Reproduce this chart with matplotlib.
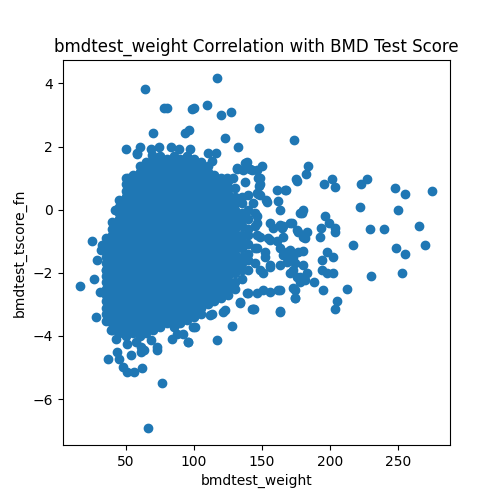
import matplotlib
matplotlib.use("Agg")
import matplotlib.pyplot as plt

# Dense core of the cloud, read column by column (x value, then y readings)
core_cols = [35, 40, 45, 50, 55, 60, 65, 70, 75, 80, 85, 90, 95, 100,
             105, 110, 115, 120, 125, 130, 135, 140, 145]
core_ys = [
    [-3.3, -3.1, -2.9, -2.7, -2.5, -2.3, -2.1, -1.9, -1.7, -1.5, -1.3, -1.1, -0.9],
    [-3.8, -3.6, -3.4, -3.2, -3.0, -2.8, -2.6, -2.4, -2.2, -2.0, -1.8, -1.6, -1.4, -1.2, -1.0, -0.8, -0.6, -0.4],
    [-3.9, -3.7, -3.5, -3.3, -3.1, -2.9, -2.7, -2.5, -2.3, -2.1, -1.9, -1.7, -1.5, -1.3, -1.1, -0.9, -0.7, -0.5, -0.3, -0.1, 0.1, 0.3],
    [-4.0, -3.8, -3.6, -3.4, -3.2, -3.0, -2.8, -2.6, -2.4, -2.2, -2.0, -1.8, -1.6, -1.4, -1.2, -1.0, -0.8, -0.6, -0.4, -0.2, 0.0, 0.2, 0.4, 0.6, 0.8, 1.0],
    [-3.9, -3.7, -3.5, -3.3, -3.1, -2.9, -2.7, -2.5, -2.3, -2.1, -1.9, -1.7, -1.5, -1.3, -1.1, -0.9, -0.7, -0.5, -0.3, -0.1, 0.1, 0.3, 0.5, 0.7, 0.9, 1.1],
    [-4.0, -3.8, -3.6, -3.4, -3.2, -3.0, -2.8, -2.6, -2.4, -2.2, -2.0, -1.8, -1.6, -1.4, -1.2, -1.0, -0.8, -0.6, -0.4, -0.2, 0.0, 0.2, 0.4, 0.6, 0.8, 1.0, 1.2, 1.4],
    [-3.9, -3.7, -3.5, -3.3, -3.1, -2.9, -2.7, -2.5, -2.3, -2.1, -1.9, -1.7, -1.5, -1.3, -1.1, -0.9, -0.7, -0.5, -0.3, -0.1, 0.1, 0.3, 0.5, 0.7, 0.9, 1.1, 1.3, 1.5],
    [-3.8, -3.6, -3.4, -3.2, -3.0, -2.8, -2.6, -2.4, -2.2, -2.0, -1.8, -1.6, -1.4, -1.2, -1.0, -0.8, -0.6, -0.4, -0.2, 0.0, 0.2, 0.4, 0.6, 0.8, 1.0, 1.2, 1.4, 1.6],
    [-3.7, -3.5, -3.3, -3.1, -2.9, -2.7, -2.5, -2.3, -2.1, -1.9, -1.7, -1.5, -1.3, -1.1, -0.9, -0.7, -0.5, -0.3, -0.1, 0.1, 0.3, 0.5, 0.7, 0.9, 1.1, 1.3, 1.5, 1.7],
    [-3.6, -3.4, -3.2, -3.0, -2.8, -2.6, -2.4, -2.2, -2.0, -1.8, -1.6, -1.4, -1.2, -1.0, -0.8, -0.6, -0.4, -0.2, 0.0, 0.2, 0.4, 0.6, 0.8, 1.0, 1.2, 1.4, 1.6],
    [-3.7, -3.5, -3.3, -3.1, -2.9, -2.7, -2.5, -2.3, -2.1, -1.9, -1.7, -1.5, -1.3, -1.1, -0.9, -0.7, -0.5, -0.3, -0.1, 0.1, 0.3, 0.5, 0.7, 0.9, 1.1, 1.3, 1.5, 1.7],
    [-3.6, -3.4, -3.2, -3.0, -2.8, -2.6, -2.4, -2.2, -2.0, -1.8, -1.6, -1.4, -1.2, -1.0, -0.8, -0.6, -0.4, -0.2, 0.0, 0.2, 0.4, 0.6, 0.8, 1.0, 1.2, 1.4, 1.6],
    [-3.5, -3.3, -3.1, -2.9, -2.7, -2.5, -2.3, -2.1, -1.9, -1.7, -1.5, -1.3, -1.1, -0.9, -0.7, -0.5, -0.3, -0.1, 0.1, 0.3, 0.5, 0.7, 0.9, 1.1, 1.3, 1.5, 1.7],
    [-3.4, -3.2, -3.0, -2.8, -2.6, -2.4, -2.2, -2.0, -1.8, -1.6, -1.4, -1.2, -1.0, -0.8, -0.6, -0.4, -0.2, 0.0, 0.2, 0.4, 0.6, 0.8, 1.0, 1.2, 1.4, 1.6],
    [-3.3, -3.1, -2.9, -2.7, -2.5, -2.3, -2.1, -1.9, -1.7, -1.5, -1.3, -1.1, -0.9, -0.7, -0.5, -0.3, -0.1, 0.1, 0.3, 0.5, 0.7, 0.9, 1.1, 1.3, 1.5],
    [-3.0, -2.8, -2.6, -2.4, -2.2, -2.0, -1.8, -1.6, -1.4, -1.2, -1.0, -0.8, -0.6, -0.4, -0.2, 0.0, 0.2, 0.4, 0.6, 0.8, 1.0, 1.2, 1.4],
    [-2.9, -2.7, -2.5, -2.3, -2.1, -1.9, -1.7, -1.5, -1.3, -1.1, -0.9, -0.7, -0.5, -0.3, -0.1, 0.1, 0.3, 0.5, 0.7, 0.9, 1.1],
    [-2.8, -2.6, -2.4, -2.2, -2.0, -1.8, -1.6, -1.4, -1.2, -1.0, -0.8, -0.6, -0.4, -0.2, 0.0, 0.2, 0.4, 0.6, 0.8, 1.0],
    [-2.7, -2.5, -2.3, -2.1, -1.9, -1.7, -1.5, -1.3, -1.1, -0.9, -0.7, -0.5, -0.3, -0.1, 0.1, 0.3, 0.5, 0.7, 0.9],
    [-2.5, -2.3, -2.0, -1.8, -1.6, -1.4, -1.2, -1.0, -0.8, -0.6, -0.4, -0.2, 0.0, 0.2, 0.4, 0.7],
    [-2.2, -1.9, -1.7, -1.5, -1.2, -1.0, -0.8, -0.5, -0.3, -0.1, 0.2, 0.4],
    [-1.9, -1.6, -1.4, -1.1, -0.8, -0.6, -0.3, 0.0],
    [-1.7, -1.2, -0.5, -0.1],
]

# Individually visible points around the core
scatter_x = [
    64.0, 78.0, 80.3, 98.8, 69.9, 93.1, 96.3, 50.0, 60.3, 58.3, 68.6, 74.3, 83.3, 89.0, 97.0, 51.7,
    116.7, 100.0, 109.3, 120.0, 127.2, 148.0, 173.8, 123.0, 132.6, 110.5, 116.2, 113.0, 138.7, 131.8,
    141.2, 150.2, 137.5, 148.5, 148.5, 160.8, 167.6, 175.0, 182.4, 184.0, 57.9, 68.9,
    195.6, 201.5, 203.9, 222.6, 227.4, 247.8, 255.1, 275.2, 222.0, 250.2, 229.4, 239.9, 265.0, 217.2,
    248.5, 255.0, 270.0, 230.0, 253.0, 212.2, 205.4, 203.7, 163.0, 174.5, 195.0, 188.5, 202.4, 197.6,
    193.9, 193.9, 198.0, 202.4, 192.6, 193.4, 196.3, 199.0, 203.7, 203.7, 178.0, 174.3, 163.2, 155.9,
    151.0, 144.1, 180.4, 178.0, 166.9, 162.0, 163.2, 153.0, 148.0, 147.3, 142.4,
    148.5, 175.5, 153.4, 179.2, 155.9, 163.2, 170.6, 175.5, 181.6, 146.1, 154.6, 160.8, 168.2,
    170.6, 174.3, 175.5, 181.6, 152.2, 155.9, 151.0, 162.0, 173.0, 174.3, 163.2, 138.7, 143.6, 133.8,
    121.5, 113.0, 127.7, 99.5, 92.1, 116.7,
    146.1, 146.1, 158.3, 164.5, 165.7, 171.8, 176.7, 180.4, 182.9, 165.7, 155.9, 148.5, 146.1, 152.2,
    163.2, 165.7, 170.6, 176.7, 180.4, 173.0, 168.2, 163.2, 180.4, 155.9, 148.5, 170.6, 173.0, 177.9, 182.9,
    131.4, 137.5, 139.9, 146.1, 147.3, 146.1, 124.0, 128.9, 136.3, 139.9, 143.6,
    25.2, 16.2, 26.5, 30.9, 28.4, 32.6, 31.4, 35.0, 41.7, 41.2, 48.5, 51.0, 28.2, 35.0, 37.0, 43.2,
    44.9, 48.0, 51.0, 55.9, 62.0, 53.5, 60.8, 63.2, 76.7, 66.4, 72.6, 84.0, 87.7, 95.6, 42.4, 51.0,
    57.1, 38.7, 68.6, 61.3, 72.6, 100.7, 111.8, 122.8, 133.8, 142.4, 139.9, 146.1, 95.8,
]
scatter_y = [
    3.81, 3.21, 3.21, 3.20, 2.42, 2.42, 2.53, 1.91, 2.00, 1.80, 1.91, 2.00, 2.00, 1.91, 1.91, 1.00,
    4.19, 3.21, 3.31, 2.99, 3.11, 2.60, 2.20, 2.28, 2.00, 1.80, 1.80, 1.54, 1.51, 1.30,
    1.30, 1.40, 0.87, 1.00, 0.80, 0.64, 0.64, 0.96, 1.12, 1.40, 1.78, 1.75,
    0.80, 0.98, 0.72, 0.80, 0.98, 0.69, 0.50, 0.60, 0.09, 0.00, -0.60, -0.60, -0.51, -1.11,
    -1.22, -1.40, -1.11, -2.10, -2.02, -2.52, -2.89, -3.13, -3.20, -2.81, -2.53, -2.29, -2.02, -2.02,
    -1.91, -1.59, -1.33, -1.51, -0.87, -0.58, -0.21, -0.42, -0.58, -0.72, -2.28, -2.53, -2.55, -2.60,
    -2.55, -3.13, 0.00, -0.10, 0.61, 0.29, 0.00, 0.32, 0.76, 0.51, 1.27,
    0.48, 0.90, 0.26, -0.10, -0.42, -0.48, -0.42, -0.64, -0.90, -0.80, -0.90, -1.00, -1.33,
    -1.59, -1.70, -2.12, -2.23, -1.49, -1.75, -2.02, -2.55, -2.49, -2.81, -3.23, -2.65, -3.13, -2.92,
    -3.24, -3.29, -3.69, -3.72, -3.93, -4.14,
    -0.21, -0.42, -0.58, -0.58, -0.50, -0.42, -0.69, -0.85, -0.69, -0.85, -0.96, -0.85, -1.22, -1.33,
    -1.22, -1.45, -1.27, -1.33, -1.30, -1.49, -1.65, -1.75, -1.75, -1.81, -1.91, -2.02, -1.91, -2.12, -2.02,
    1.33, 1.49, 1.33, 1.27, 1.01, 0.53, 1.00, 1.00, 1.27, 0.48, 0.21,
    -0.99, -2.42, -2.20, -2.60, -1.59, -1.11, -1.27, -1.91, 0.00, -0.53, 0.26, 0.48, -3.40, -3.52, -4.72, -4.51,
    -4.72, -4.99, -5.13, -5.13, -5.01, -4.60, -4.51, -4.46, -5.50, -6.90, -4.44, -4.09, -3.93, -4.19, -4.09, -4.25,
    -4.19, -3.82, -4.14, -4.35, -4.35, -3.72, -3.34, -3.18, -2.97, -3.13, -2.65, -2.65, -4.19,
]

xs = []
ys = []
for cx, col in zip(core_cols, core_ys):
    xs.extend([cx] * len(col))
    ys.extend(col)
xs.extend(scatter_x)
ys.extend(scatter_y)

fig, ax = plt.subplots(figsize=(5, 5), dpi=100)
ax.scatter(xs, ys, color="#1f77b4")
ax.set_title("bmdtest_weight Correlation with BMD Test Score")
ax.set_xlabel("bmdtest_weight")
ax.set_ylabel("bmdtest_tscore_fn")
fig.savefig("out.png", dpi=100)
